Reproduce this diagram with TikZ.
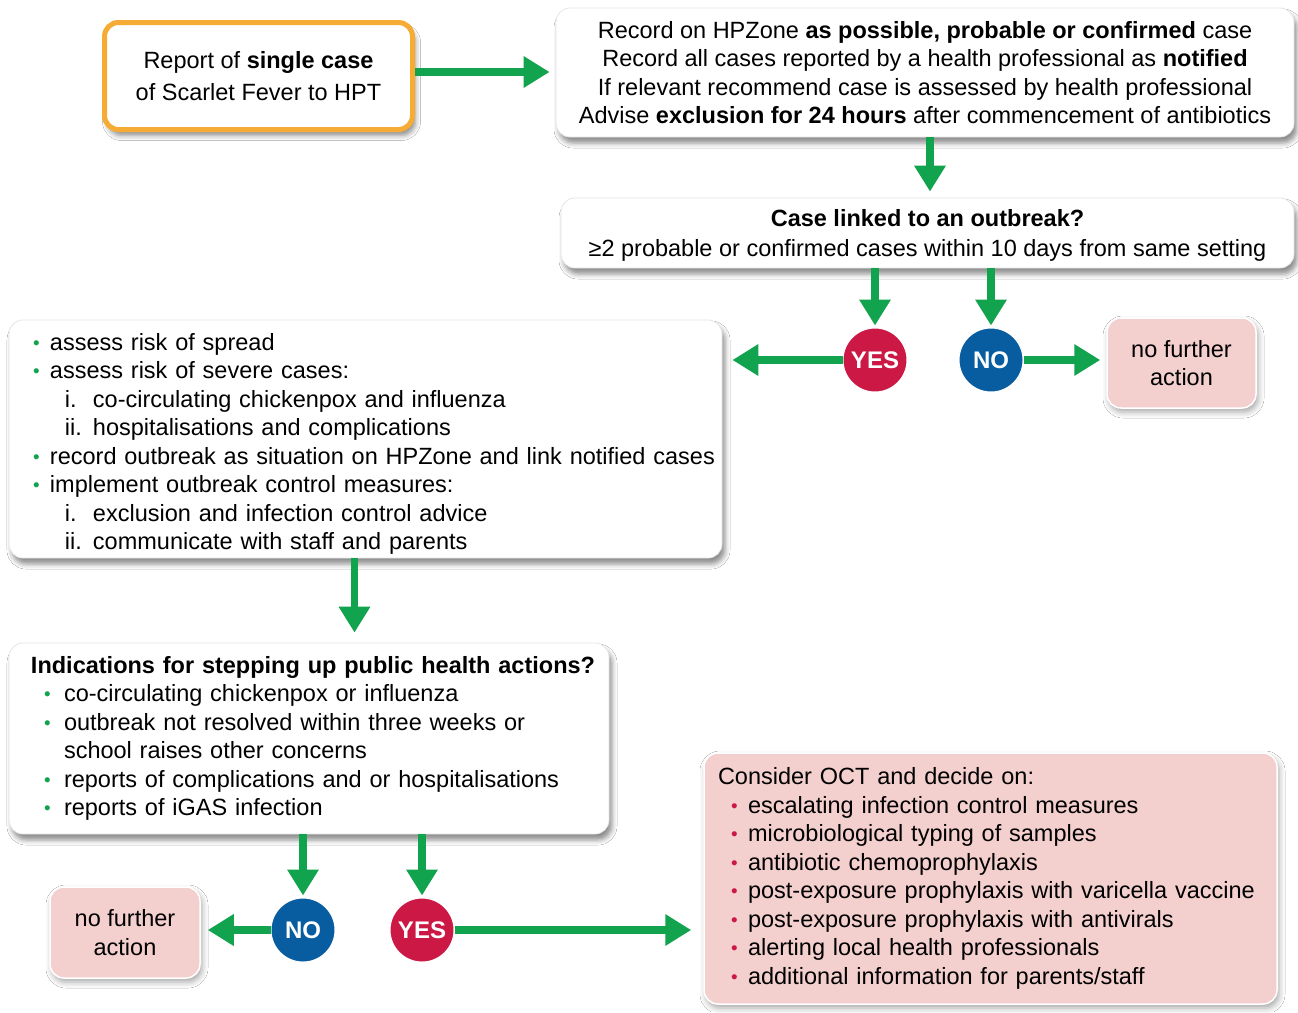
\documentclass[tikz,border=0pt]{standalone}
\usepackage{fontspec}
\setmainfont{Liberation Sans}
\usetikzlibrary{arrows.meta,shadows.blur}
\definecolor{agreen}{RGB}{18,163,78}
\definecolor{yesred}{RGB}{204,24,68}
\definecolor{noblue}{RGB}{8,92,160}
\definecolor{pinkfill}{RGB}{243,207,206}
\definecolor{orangeb}{RGB}{246,172,52}
\newcommand{\gbul}{\makebox[17pt][l]{\textcolor{agreen}{\raisebox{1pt}{\scalebox{0.8}{•}}}}}
\newcommand{\rbul}{\makebox[17pt][l]{\textcolor{yesred}{\raisebox{1pt}{\scalebox{0.8}{•}}}}}
\newcommand{\rom}[1]{\hspace*{42pt}\makebox[28pt][l]{#1}}
\begin{document}
\begin{tikzpicture}[x=1pt,y=-1pt,
  txt/.style={font=\fontsize{23.5}{28.5}\selectfont},
  whitebox/.style={txt,draw=gray!20,line width=0.8pt,fill=white,rounded corners=14pt,
    blur shadow={shadow xshift=3pt,shadow yshift=-6pt,shadow blur radius=5pt,shadow opacity=45}},
  pinkbox/.style={txt,draw=white,line width=1.5pt,fill=pinkfill,rounded corners=14pt,
    blur shadow={shadow xshift=2pt,shadow yshift=-4pt,shadow blur radius=6pt,shadow opacity=35}},
  yesc/.style={circle,fill=yesred,draw=white,line width=1pt,minimum size=64pt,inner sep=0pt,text=white,font=\fontsize{24}{26}\selectfont\bfseries},
  noc/.style={circle,fill=noblue,draw=white,line width=1pt,minimum size=64pt,inner sep=0pt,text=white,font=\fontsize{24}{26}\selectfont\bfseries},
  arr/.style={draw=agreen,line width=7.5pt,-{Triangle[width=30pt,length=26pt]}}
]
\useasboundingbox[fill=white] (0,0) rectangle (1298,1012);

\node[whitebox,draw=orangeb,line width=5pt,minimum width=308pt,minimum height=107pt,align=center,
  font=\fontsize{23.5}{32}\selectfont] (rep) at (258.5,76)
  {Report of \textbf{single case}\\of Scarlet Fever to HPT};

\node[whitebox,minimum width=738pt,minimum height=129pt,align=center,inner sep=0pt] (rec) at (925,72.5)
  {Record on HPZone \textbf{as possible, probable or confirmed} case\\
   Record all cases reported by a health professional as \textbf{notified}\\
   If relevant recommend case is assessed by health professional\\
   Advise \textbf{exclusion for 24 hours} after commencement of antibiotics};

\node[whitebox,minimum width=733pt,minimum height=70pt,align=center,inner sep=0pt,
  font=\fontsize{23.5}{30}\selectfont] (case) at (927.5,233)
  {\rule{0pt}{22pt}\textbf{Case linked to an outbreak?}\\
   ≥2 probable or confirmed cases within 10 days from same setting};

\node[yesc] (yes1) at (875,360) {YES};
\node[noc] (no1) at (991,360) {NO};

\node[pinkbox,minimum width=149pt,minimum height=90pt,align=center,inner sep=0pt] (nfa1) at (1181.5,363)
  {no further\\action};

\node[whitebox,minimum width=713pt,minimum height=238pt,text width=685pt,inner xsep=14pt,align=left] (left) at (365.5,439)
  {\mbox{\rule{0pt}{27pt}\hspace*{10pt}\gbul assess risk of spread}\\
   \mbox{\hspace*{10pt}\gbul assess risk of severe cases:}\\
   \mbox{\rom{i.}co-circulating chickenpox and influenza}\\
   \mbox{\rom{ii.}hospitalisations and complications}\\
   \mbox{\hspace*{10pt}\gbul record outbreak as situation on HPZone and link notified cases}\\
   \mbox{\hspace*{10pt}\gbul implement outbreak control measures:}\\
   \mbox{\rom{i.}exclusion and infection control advice}\\
   \mbox{\rom{ii.}communicate with staff and parents}};

\node[whitebox,minimum width=600pt,minimum height=191pt,text width=572pt,inner xsep=14pt,align=left] (ind) at (309,738.5)
  {\mbox{\hspace*{8pt}\textbf{Indications for stepping up public health actions?}}\\
   \mbox{\hspace*{21pt}\makebox[20pt][l]{\gbul}co-circulating chickenpox or influenza}\\
   \mbox{\hspace*{21pt}\makebox[20pt][l]{\gbul}outbreak not resolved within three weeks or}\\
   \mbox{\hspace*{41pt}school raises other concerns}\\
   \mbox{\hspace*{21pt}\makebox[20pt][l]{\gbul}reports of complications and or hospitalisations}\\
   \mbox{\hspace*{21pt}\makebox[20pt][l]{\gbul}reports of iGAS infection}};

\node[noc] (no2) at (303,930) {NO};
\node[yesc] (yes2) at (422,930) {YES};

\node[pinkbox,minimum width=150pt,minimum height=91pt,align=center,inner sep=0pt] (nfa2) at (125,932.5)
  {no further\\action};

\node[pinkbox,minimum width=573pt,minimum height=251pt,text width=545pt,inner xsep=14pt,align=left] (oct) at (990.5,878.5)
  {\mbox{Consider OCT and decide on:}\\
   \mbox{\hspace*{13pt}\rbul escalating infection control measures}\\
   \mbox{\hspace*{13pt}\rbul microbiological typing of samples}\\
   \mbox{\hspace*{13pt}\rbul antibiotic chemoprophylaxis}\\
   \mbox{\hspace*{13pt}\rbul post-exposure prophylaxis with varicella vaccine}\\
   \mbox{\hspace*{13pt}\rbul post-exposure prophylaxis with antivirals}\\
   \mbox{\hspace*{13pt}\rbul alerting local health professionals}\\
   \mbox{\hspace*{13pt}\rbul additional information for parents/staff}};

% connectors
\draw[arr,shorten >=6pt] ([yshift=4pt]rep.east) -- ([yshift=4pt]rep.east -| rec.west);
\draw[arr,shorten >=6pt] ([xshift=5pt]rec.south) -- ([xshift=5pt]rec.south |- case.north);
\draw[arr,shorten >=2pt] (yes1.north |- case.south) -- (yes1.north);
\draw[arr,shorten >=2pt] (no1.north |- case.south) -- (no1.north);
\draw[arr,shorten >=10pt] (yes1.west) -- (yes1.west -| left.east);
\draw[arr,shorten >=6pt] (no1.east) -- (no1.east -| nfa1.west);
\draw[arr,shorten >=10pt] ([xshift=-11pt]left.south) -- ([xshift=-11pt]left.south |- ind.north);
\draw[arr,shorten >=2pt] (no2.north |- ind.south) -- (no2.north);
\draw[arr,shorten >=2pt] (yes2.north |- ind.south) -- (yes2.north);
\draw[arr,shorten >=7pt] (no2.west) -- (no2.west -| nfa2.east);
\draw[arr,shorten >=12pt] (yes2.east) -- (yes2.east -| oct.west);
\end{tikzpicture}
\end{document}
